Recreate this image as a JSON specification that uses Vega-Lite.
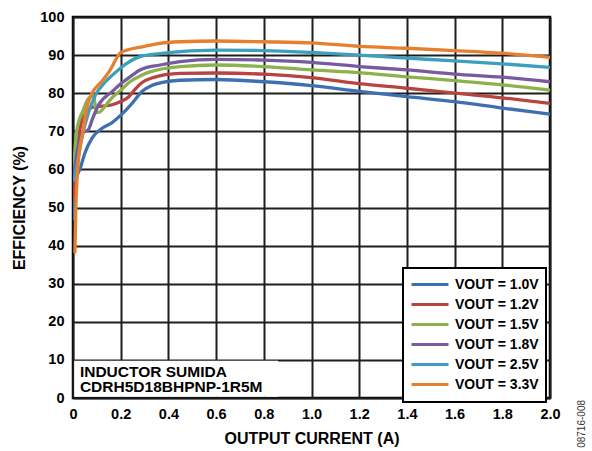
{
  "$schema": "https://vega.github.io/schema/vega-lite/v6.json",
  "width": 477,
  "height": 381,
  "autosize": {"type": "none"},
  "padding": {"left": 73, "top": 17, "right": 42, "bottom": 53},
  "background": "white",
  "config": {
    "view": {"stroke": "black", "strokeWidth": 2.5},
    "font": "Liberation Sans",
    "axis": {
      "labelFont": "Liberation Sans",
      "labelFontWeight": "bold",
      "labelFontSize": 14.5,
      "labelColor": "black",
      "titleFont": "Liberation Sans",
      "titleFontWeight": "bold",
      "titleFontSize": 16,
      "titleColor": "black",
      "ticks": false,
      "domain": false,
      "gridColor": "#1e1e1e",
      "gridWidth": 2,
      "gridOpacity": 1,
      "labelPadding": 9,
      "labelFlush": false,
      "labelOverlap": false
    },
    "legend": {
      "orient": "none",
      "legendX": 330,
      "legendY": 251,
      "fillColor": "white",
      "strokeColor": "black",
      "strokeWidth": 2,
      "padding": 7,
      "symbolType": "stroke",
      "symbolSize": 1369,
      "symbolStrokeWidth": 3,
      "clipHeight": 19.2,
      "rowPadding": 0,
      "labelOffset": 5,
      "labelFont": "Liberation Sans",
      "labelFontWeight": "bold",
      "labelFontSize": 14,
      "labelColor": "black"
    }
  },
  "datasets": {
    "efficiency": [
      {"vout": "1.0V", "current": 0.002, "eff": 47.0},
      {"vout": "1.0V", "current": 0.01, "eff": 56.8},
      {"vout": "1.0V", "current": 0.031, "eff": 60.4},
      {"vout": "1.0V", "current": 0.05, "eff": 64.3},
      {"vout": "1.0V", "current": 0.08, "eff": 68.2},
      {"vout": "1.0V", "current": 0.122, "eff": 70.8},
      {"vout": "1.0V", "current": 0.164, "eff": 72.3},
      {"vout": "1.0V", "current": 0.205, "eff": 74.5},
      {"vout": "1.0V", "current": 0.25, "eff": 77.5},
      {"vout": "1.0V", "current": 0.29, "eff": 80.5},
      {"vout": "1.0V", "current": 0.33, "eff": 82.0},
      {"vout": "1.0V", "current": 0.38, "eff": 82.9},
      {"vout": "1.0V", "current": 0.449, "eff": 83.4},
      {"vout": "1.0V", "current": 0.6, "eff": 83.6},
      {"vout": "1.0V", "current": 0.8, "eff": 83.0},
      {"vout": "1.0V", "current": 1.0, "eff": 82.0},
      {"vout": "1.0V", "current": 1.2, "eff": 80.5},
      {"vout": "1.0V", "current": 1.4, "eff": 79.1},
      {"vout": "1.0V", "current": 1.6, "eff": 77.8},
      {"vout": "1.0V", "current": 1.8, "eff": 76.1},
      {"vout": "1.0V", "current": 2.0, "eff": 74.5},

      {"vout": "1.2V", "current": 0.002, "eff": 52.5},
      {"vout": "1.2V", "current": 0.015, "eff": 62.0},
      {"vout": "1.2V", "current": 0.03, "eff": 71.0},
      {"vout": "1.2V", "current": 0.05, "eff": 74.5},
      {"vout": "1.2V", "current": 0.08, "eff": 76.3},
      {"vout": "1.2V", "current": 0.12, "eff": 76.6},
      {"vout": "1.2V", "current": 0.16, "eff": 76.9},
      {"vout": "1.2V", "current": 0.2, "eff": 77.8},
      {"vout": "1.2V", "current": 0.233, "eff": 79.0},
      {"vout": "1.2V", "current": 0.26, "eff": 81.0},
      {"vout": "1.2V", "current": 0.29, "eff": 82.8},
      {"vout": "1.2V", "current": 0.33, "eff": 84.0},
      {"vout": "1.2V", "current": 0.449, "eff": 85.2},
      {"vout": "1.2V", "current": 0.6, "eff": 85.3},
      {"vout": "1.2V", "current": 0.8, "eff": 85.0},
      {"vout": "1.2V", "current": 1.0, "eff": 84.1},
      {"vout": "1.2V", "current": 1.2, "eff": 82.5},
      {"vout": "1.2V", "current": 1.4, "eff": 81.3},
      {"vout": "1.2V", "current": 1.6, "eff": 80.0},
      {"vout": "1.2V", "current": 1.8, "eff": 78.8},
      {"vout": "1.2V", "current": 2.0, "eff": 77.3},

      {"vout": "1.5V", "current": 0.002, "eff": 59.0},
      {"vout": "1.5V", "current": 0.015, "eff": 70.0},
      {"vout": "1.5V", "current": 0.043, "eff": 75.6},
      {"vout": "1.5V", "current": 0.064, "eff": 78.5},
      {"vout": "1.5V", "current": 0.085, "eff": 79.3},
      {"vout": "1.5V", "current": 0.1, "eff": 74.9},
      {"vout": "1.5V", "current": 0.113, "eff": 75.1},
      {"vout": "1.5V", "current": 0.134, "eff": 76.5},
      {"vout": "1.5V", "current": 0.155, "eff": 78.2},
      {"vout": "1.5V", "current": 0.2, "eff": 80.8},
      {"vout": "1.5V", "current": 0.239, "eff": 83.0},
      {"vout": "1.5V", "current": 0.29, "eff": 84.8},
      {"vout": "1.5V", "current": 0.323, "eff": 85.6},
      {"vout": "1.5V", "current": 0.449, "eff": 87.0},
      {"vout": "1.5V", "current": 0.6, "eff": 87.4},
      {"vout": "1.5V", "current": 0.8, "eff": 87.0},
      {"vout": "1.5V", "current": 1.0, "eff": 86.1},
      {"vout": "1.5V", "current": 1.2, "eff": 85.4},
      {"vout": "1.5V", "current": 1.4, "eff": 84.3},
      {"vout": "1.5V", "current": 1.6, "eff": 83.3},
      {"vout": "1.5V", "current": 1.8, "eff": 82.2},
      {"vout": "1.5V", "current": 2.0, "eff": 80.8},

      {"vout": "1.8V", "current": 0.002, "eff": 58.0},
      {"vout": "1.8V", "current": 0.017, "eff": 64.5},
      {"vout": "1.8V", "current": 0.04, "eff": 69.5},
      {"vout": "1.8V", "current": 0.065, "eff": 70.5},
      {"vout": "1.8V", "current": 0.08, "eff": 73.0},
      {"vout": "1.8V", "current": 0.108, "eff": 77.0},
      {"vout": "1.8V", "current": 0.164, "eff": 80.4},
      {"vout": "1.8V", "current": 0.2, "eff": 82.5},
      {"vout": "1.8V", "current": 0.233, "eff": 84.0},
      {"vout": "1.8V", "current": 0.281, "eff": 86.1},
      {"vout": "1.8V", "current": 0.365, "eff": 87.4},
      {"vout": "1.8V", "current": 0.449, "eff": 88.3},
      {"vout": "1.8V", "current": 0.6, "eff": 88.9},
      {"vout": "1.8V", "current": 0.8, "eff": 88.7},
      {"vout": "1.8V", "current": 1.0, "eff": 88.1},
      {"vout": "1.8V", "current": 1.2, "eff": 87.0},
      {"vout": "1.8V", "current": 1.4, "eff": 86.1},
      {"vout": "1.8V", "current": 1.6, "eff": 85.0},
      {"vout": "1.8V", "current": 1.8, "eff": 84.2},
      {"vout": "1.8V", "current": 2.0, "eff": 83.0},

      {"vout": "2.5V", "current": 0.005, "eff": 57.2},
      {"vout": "2.5V", "current": 0.015, "eff": 60.7},
      {"vout": "2.5V", "current": 0.038, "eff": 68.5},
      {"vout": "2.5V", "current": 0.066, "eff": 75.1},
      {"vout": "2.5V", "current": 0.094, "eff": 79.5},
      {"vout": "2.5V", "current": 0.136, "eff": 83.0},
      {"vout": "2.5V", "current": 0.17, "eff": 85.0},
      {"vout": "2.5V", "current": 0.197, "eff": 86.5},
      {"vout": "2.5V", "current": 0.281, "eff": 89.6},
      {"vout": "2.5V", "current": 0.365, "eff": 90.4},
      {"vout": "2.5V", "current": 0.449, "eff": 90.9},
      {"vout": "2.5V", "current": 0.6, "eff": 91.3},
      {"vout": "2.5V", "current": 0.8, "eff": 91.2},
      {"vout": "2.5V", "current": 1.0, "eff": 90.7},
      {"vout": "2.5V", "current": 1.2, "eff": 90.0},
      {"vout": "2.5V", "current": 1.4, "eff": 89.2},
      {"vout": "2.5V", "current": 1.6, "eff": 88.5},
      {"vout": "2.5V", "current": 1.8, "eff": 87.7},
      {"vout": "2.5V", "current": 2.0, "eff": 86.8},

      {"vout": "3.3V", "current": 0.008, "eff": 38.3},
      {"vout": "3.3V", "current": 0.012, "eff": 50.0},
      {"vout": "3.3V", "current": 0.021, "eff": 61.0},
      {"vout": "3.3V", "current": 0.042, "eff": 70.0},
      {"vout": "3.3V", "current": 0.057, "eff": 76.0},
      {"vout": "3.3V", "current": 0.08, "eff": 80.0},
      {"vout": "3.3V", "current": 0.122, "eff": 83.2},
      {"vout": "3.3V", "current": 0.155, "eff": 86.0},
      {"vout": "3.3V", "current": 0.197, "eff": 90.5},
      {"vout": "3.3V", "current": 0.226, "eff": 91.3},
      {"vout": "3.3V", "current": 0.3, "eff": 92.3},
      {"vout": "3.3V", "current": 0.365, "eff": 93.1},
      {"vout": "3.3V", "current": 0.449, "eff": 93.5},
      {"vout": "3.3V", "current": 0.6, "eff": 93.7},
      {"vout": "3.3V", "current": 0.8, "eff": 93.5},
      {"vout": "3.3V", "current": 1.0, "eff": 93.2},
      {"vout": "3.3V", "current": 1.2, "eff": 92.3},
      {"vout": "3.3V", "current": 1.4, "eff": 91.8},
      {"vout": "3.3V", "current": 1.6, "eff": 91.2},
      {"vout": "3.3V", "current": 1.8, "eff": 90.5},
      {"vout": "3.3V", "current": 2.0, "eff": 89.4}
    ]
  },
  "layer": [
    {
      "data": {"name": "efficiency"},
      "mark": {"type": "line", "interpolate": "monotone", "strokeWidth": 3.3, "strokeCap": "round", "strokeJoin": "round", "clip": true},
      "encoding": {
        "x": {
          "field": "current",
          "type": "quantitative",
          "scale": {"domain": [0, 2], "nice": false, "zero": false},
          "axis": {
            "title": "OUTPUT CURRENT (A)",
            "grid": true,
            "values": [0, 0.2, 0.4, 0.6, 0.8, 1.0, 1.2, 1.4, 1.6, 1.8, 2.0],
            "labelExpr": "datum.value === 0 ? '0' : format(datum.value, '.1f')",
            "titlePadding": 10
          }
        },
        "y": {
          "field": "eff",
          "type": "quantitative",
          "scale": {"domain": [0, 100], "nice": false},
          "axis": {
            "title": "EFFICIENCY (%)",
            "grid": true,
            "values": [0, 10, 20, 30, 40, 50, 60, 70, 80, 90, 100],
            "titlePadding": 12
          }
        },
        "color": {
          "field": "vout",
          "type": "nominal",
          "scale": {
            "domain": ["1.0V", "1.2V", "1.5V", "1.8V", "2.5V", "3.3V"],
            "range": ["#3f6fb3", "#b8433f", "#8cb24b", "#775b9f", "#3b9fbd", "#e6802e"]
          },
          "legend": {"title": null, "labelExpr": "'VOUT = ' + datum.label"}
        },
        "order": {"field": "current", "type": "quantitative"}
      }
    },
    {
      "data": {"values": [{"box": "inductor"}]},
      "mark": {"type": "rect", "fill": "white"},
      "encoding": {
        "x": {
          "datum": 0.005,
          "type": "quantitative",
          "axis": {
            "title": "OUTPUT CURRENT (A)",
            "grid": true,
            "values": [0, 0.2, 0.4, 0.6, 0.8, 1.0, 1.2, 1.4, 1.6, 1.8, 2.0],
            "labelExpr": "datum.value === 0 ? '0' : format(datum.value, '.1f')",
            "titlePadding": 10
          }
        },
        "x2": {"datum": 0.86},
        "y": {
          "datum": 0.3,
          "type": "quantitative",
          "axis": {
            "title": "EFFICIENCY (%)",
            "grid": true,
            "values": [0, 10, 20, 30, 40, 50, 60, 70, 80, 90, 100],
            "titlePadding": 12
          }
        },
        "y2": {"datum": 9.8}
      }
    },
    {
      "data": {"values": [{"note": "INDUCTOR SUMIDA"}]},
      "mark": {"type": "text", "align": "left", "baseline": "middle", "font": "Liberation Sans", "fontWeight": "bold", "fontSize": 15.5, "color": "black"},
      "encoding": {
        "x": {
          "datum": 0.029,
          "type": "quantitative",
          "axis": {
            "title": "OUTPUT CURRENT (A)",
            "grid": true,
            "values": [0, 0.2, 0.4, 0.6, 0.8, 1.0, 1.2, 1.4, 1.6, 1.8, 2.0],
            "labelExpr": "datum.value === 0 ? '0' : format(datum.value, '.1f')",
            "titlePadding": 10
          }
        },
        "y": {
          "datum": 6.9,
          "type": "quantitative",
          "axis": {
            "title": "EFFICIENCY (%)",
            "grid": true,
            "values": [0, 10, 20, 30, 40, 50, 60, 70, 80, 90, 100],
            "titlePadding": 12
          }
        },
        "text": {"field": "note"}
      }
    },
    {
      "data": {"values": [{"note": "CDRH5D18BHPNP-1R5M"}]},
      "mark": {"type": "text", "align": "left", "baseline": "middle", "font": "Liberation Sans", "fontWeight": "bold", "fontSize": 15.5, "color": "black"},
      "encoding": {
        "x": {
          "datum": 0.029,
          "type": "quantitative",
          "axis": {
            "title": "OUTPUT CURRENT (A)",
            "grid": true,
            "values": [0, 0.2, 0.4, 0.6, 0.8, 1.0, 1.2, 1.4, 1.6, 1.8, 2.0],
            "labelExpr": "datum.value === 0 ? '0' : format(datum.value, '.1f')",
            "titlePadding": 10
          }
        },
        "y": {
          "datum": 2.8,
          "type": "quantitative",
          "axis": {
            "title": "EFFICIENCY (%)",
            "grid": true,
            "values": [0, 10, 20, 30, 40, 50, 60, 70, 80, 90, 100],
            "titlePadding": 12
          }
        },
        "text": {"field": "note"}
      }
    },
    {
      "data": {"values": [{"code": "08716-008"}]},
      "mark": {"type": "text", "align": "center", "baseline": "middle", "angle": 270, "font": "Liberation Sans", "fontSize": 10, "color": "#333333", "clip": false},
      "encoding": {
        "x": {
          "datum": 2.133,
          "type": "quantitative",
          "axis": {
            "title": "OUTPUT CURRENT (A)",
            "grid": true,
            "values": [0, 0.2, 0.4, 0.6, 0.8, 1.0, 1.2, 1.4, 1.6, 1.8, 2.0],
            "labelExpr": "datum.value === 0 ? '0' : format(datum.value, '.1f')",
            "titlePadding": 10
          }
        },
        "y": {
          "datum": -6.8,
          "type": "quantitative",
          "axis": {
            "title": "EFFICIENCY (%)",
            "grid": true,
            "values": [0, 10, 20, 30, 40, 50, 60, 70, 80, 90, 100],
            "titlePadding": 12
          }
        },
        "text": {"field": "code"}
      }
    }
  ]
}
